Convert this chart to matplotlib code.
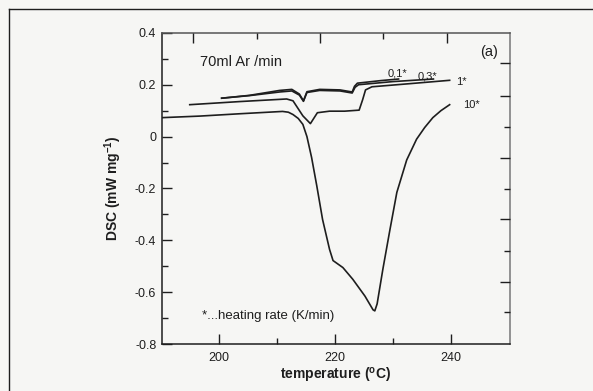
# DSC curves of sample at various heating rates
import numpy as np
import matplotlib.pyplot as plt

plt.rcParams['font.family'] = ['Liberation Sans', 'DejaVu Sans']
plt.rcParams['mathtext.fontset'] = 'custom'
plt.rcParams['mathtext.rm'] = 'Liberation Sans'
plt.rcParams['mathtext.bf'] = 'Liberation Sans:bold'

# heating rate 10 K/min
t_10 = [190.2, 196.7, 203.6, 211.0, 212.0, 212.8, 213.7, 214.5, 215.2, 216.0, 216.9, 217.9,
        219.1, 219.7, 221.4, 223.1, 225.2, 226.6, 226.9, 227.3, 228.3, 229.5, 230.7, 232.4,
        234.1, 235.5, 236.9, 238.3, 239.8]
dsc_10 = [0.073, 0.079, 0.088, 0.097, 0.094, 0.085, 0.070, 0.047, 0.0, -0.08, -0.19, -0.32,
          -0.435, -0.478, -0.505, -0.55, -0.615, -0.668, -0.672, -0.645, -0.51, -0.36, -0.215,
          -0.09, -0.01, 0.035, 0.073, 0.10, 0.123]

# heating rate 1 K/min
t_1 = [195.0, 203.6, 211.7, 212.8, 214.5, 215.8, 217.0, 219.1, 221.7, 224.2, 224.8, 225.3,
       226.4, 232.9, 239.8]
dsc_1 = [0.123, 0.135, 0.145, 0.138, 0.080, 0.050, 0.092, 0.098, 0.098, 0.102, 0.142, 0.180,
         0.192, 0.204, 0.217]

# heating rate 0.3 K/min
t_03 = [200.5, 205.3, 210.5, 212.6, 213.9, 214.6, 215.2, 217.4, 220.9, 223.0, 223.5, 224.1,
        230.0, 237.0]
dsc_03 = [0.148, 0.158, 0.172, 0.176, 0.160, 0.136, 0.170, 0.178, 0.176, 0.168, 0.190, 0.200,
          0.212, 0.222]

# heating rate 0.1 K/min
t_01 = [200.5, 205.3, 210.5, 212.6, 213.9, 214.6, 215.2, 217.4, 220.9, 223.0, 223.4, 223.9,
        228.0, 231.0]
dsc_01 = [0.148, 0.159, 0.178, 0.182, 0.164, 0.138, 0.173, 0.182, 0.180, 0.172, 0.194, 0.206,
          0.216, 0.222]

x_ticks = [200, 220, 240]
x_minor = [210, 230]
y_ticks = [0.4, 0.2, 0, -0.2, -0.4, -0.6, -0.8]
y_labels = ['0.4', '0.2', '0', '-0.2', '-0.4', '-0.6', '-0.8']
y_minor = [0.3, 0.1, -0.1, -0.3, -0.5, -0.7]
# top and right frame ticks (spacing differs from the labelled axes in the original)
top_ticks = [195.5, 217.4, 239.3]
top_minor = [206.6, 228.3]
right_ticks = [0.285, 0.158, -0.081, -0.319, -0.562]
right_minor = [0.038, -0.204, -0.442, -0.677]

paper = '#f6f6f4'
ink = '#1e1e1e'

fig = plt.figure(figsize=(5.93, 3.91), dpi=100, facecolor=paper)
ax = fig.add_axes([0.273, 0.120, 0.587, 0.796], facecolor=paper)

for t, d in [(t_10, dsc_10), (t_1, dsc_1), (t_03, dsc_03), (t_01, dsc_01)]:
    ax.plot(t, d, color=ink, lw=1.2)

ax.set_xlim(190.2, 250.2)
ax.set_ylim(-0.8, 0.4)
ax.set_xticks(x_ticks)
ax.set_xticks(x_minor, minor=True)
ax.set_yticks(y_ticks)
ax.set_yticklabels(y_labels)
ax.set_yticks(y_minor, minor=True)
ax.tick_params(which='both', direction='in', colors=ink, labelsize=9, width=1.0)
ax.tick_params(which='major', length=7)
ax.tick_params(which='minor', length=4)
ax.tick_params(axis='y', pad=4)
ax.tick_params(axis='x', pad=6)
for s in ax.spines.values():
    s.set_color(ink)
    s.set_linewidth(1.1)
ax.spines['right'].set_color('#777777')
ax.spines['top'].set_color('#555555')

axt = ax.twiny()
axt.set_xlim(ax.get_xlim())
axt.set_xticks(top_ticks)
axt.set_xticks(top_minor, minor=True)
axt.tick_params(which='both', direction='in', labeltop=False, colors=ink, width=1.0)
axt.tick_params(which='major', length=7)
axt.tick_params(which='minor', length=4)

axr = ax.twinx()
axr.set_ylim(ax.get_ylim())
axr.set_yticks(right_ticks)
axr.set_yticks(right_minor, minor=True)
axr.tick_params(which='both', direction='in', labelright=False, colors=ink, width=1.0)
axr.tick_params(which='major', length=7)
axr.tick_params(which='minor', length=4)
for a in (axt, axr):
    for s in a.spines.values():
        s.set_visible(False)

ax.set_ylabel(r'DSC (mW mg$^{\mathbf{-1}}$)', fontsize=10, fontweight='bold', color=ink)
ax.yaxis.set_label_coords(-0.11, 0.5)
ax.set_xlabel(r'temperature ($^{\mathbf{o}}$C)', fontsize=10, fontweight='bold', color=ink)
ax.xaxis.set_label_coords(0.5, -0.07)

ax.text(196.7, 0.288, '70ml Ar /min', fontsize=10.5, va='center', color=ink)
ax.text(245.0, 0.327, '(a)', fontsize=10.5, va='center', color=ink)
ax.text(197.2, -0.692, '*...heating rate (K/min)', fontsize=9.5, va='center', color=ink)
ax.text(229.1, 0.242, '0,1*', fontsize=8, va='center', color=ink)
ax.text(234.3, 0.233, '0,3*', fontsize=8, va='center', color=ink)
ax.text(240.9, 0.212, '1*', fontsize=8, va='center', color=ink)
ax.text(242.1, 0.123, '10*', fontsize=8, va='center', color=ink)

# page frame from the scan
fig.add_artist(plt.Line2D([0.015, 0.015], [0.0, 0.977], color=ink, lw=1.0))
fig.add_artist(plt.Line2D([0.015, 1.0], [0.977, 0.977], color=ink, lw=1.0))

fig.savefig('out.png', dpi=100, facecolor=paper)
